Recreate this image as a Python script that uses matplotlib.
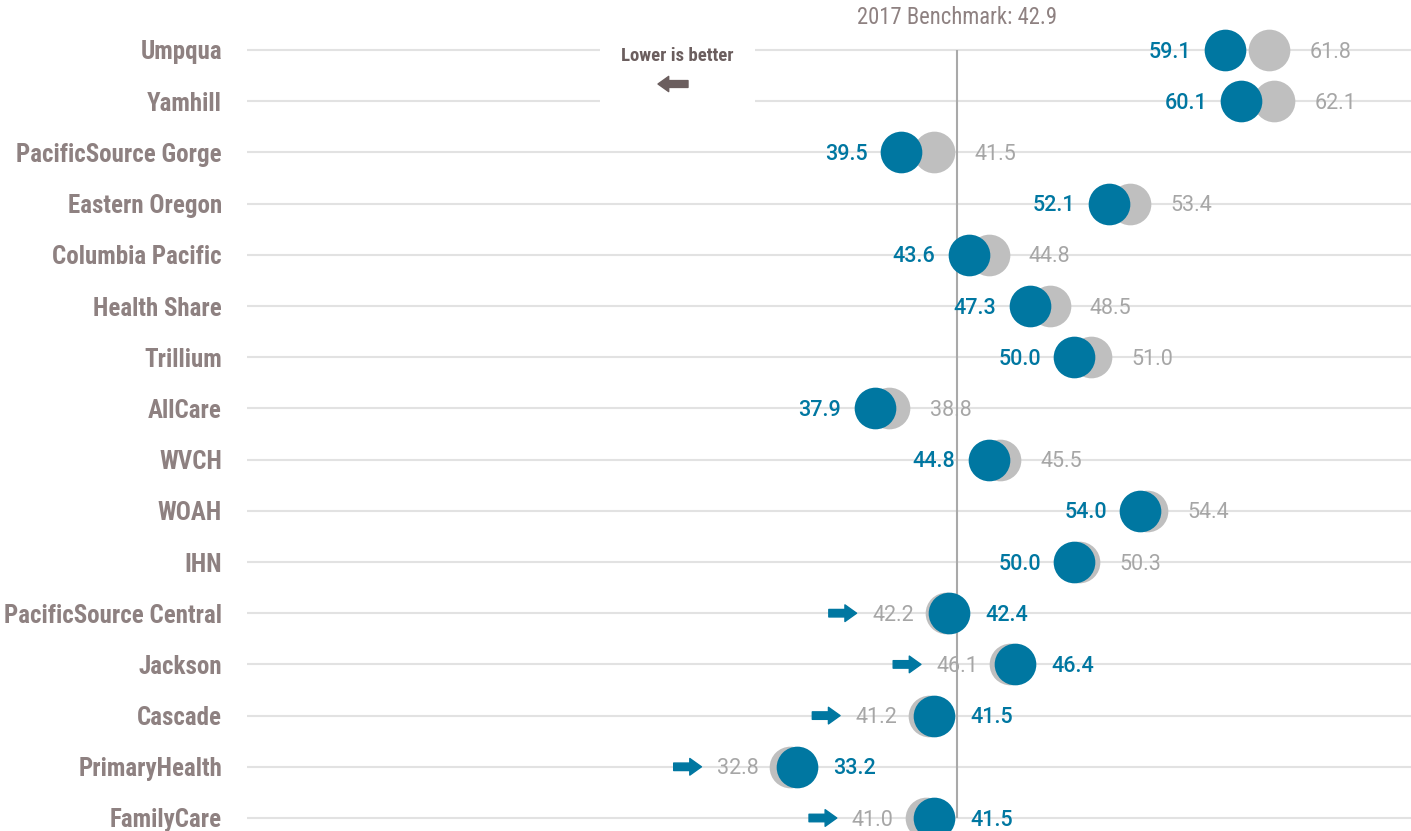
import matplotlib
matplotlib.use("Agg")
import matplotlib.pyplot as plt
from matplotlib import font_manager, transforms
from matplotlib.font_manager import FontProperties
from matplotlib.patches import Rectangle

regions = ["Umpqua", "Yamhill", "PacificSource Gorge", "Eastern Oregon", "Columbia Pacific",
           "Health Share", "Trillium", "AllCare", "WVCH", "WOAH", "IHN",
           "PacificSource Central", "Jackson", "Cascade", "PrimaryHealth", "FamilyCare"]
prev_vals = [61.8, 62.1, 41.5, 53.4, 44.8, 48.5, 51.0, 38.8, 45.5, 54.4, 50.3, 42.2, 46.1, 41.2, 32.8, 41.0]
curr_vals = [59.1, 60.1, 39.5, 52.1, 43.6, 47.3, 50.0, 37.9, 44.8, 54.0, 50.0, 42.4, 46.4, 41.5, 33.2, 41.5]
benchmark = 42.9
benchmark_label = "2017 Benchmark: 42.9"
note_label = "Lower is better"


def ff(family, weight, stretch='normal'):
    try:
        return font_manager.findfont(FontProperties(family=family, weight=weight, stretch=stretch),
                                     fallback_to_default=False)
    except Exception:
        return None


def mk(fname, size, fallback_weight='normal'):
    if fname:
        p = FontProperties(fname=fname)
    else:
        p = FontProperties(family='DejaVu Sans', weight=fallback_weight)
        size *= 0.8
    p.set_size(size)
    return p


cond_med = ff('Roboto Condensed', 'semibold', 'condensed') or ff('Roboto Condensed', 'bold', 'condensed')
cond_bold = ff('Roboto Condensed', 'bold', 'condensed')
cond_reg = ff('Roboto Condensed', 'normal', 'condensed')
rob_reg = ff('Roboto', 'normal') or cond_reg
rob_med = ff('Roboto', 'medium') or cond_bold

BLUE = "#0077A1"
GREY_DOT = "#BFBFBF"
GREY_TXT = "#A6A6A6"
LABEL_TXT = "#8E8181"
NOTE_TXT = "#6B5E5E"
GRID = "#E2E2E2"

W, H = 1411, 831
fig = plt.figure(figsize=(W / 100, H / 100), dpi=100)
ax = fig.add_axes([247 / W, 0, 1 - 247 / W, 1])
n = len(regions)
ys = list(range(n))
ax.set_ylim(n - 1 + 13 / 51.2, -50 / 51.2)
ax.set_xlim(-0.13, 70.4)
for s in ax.spines.values():
    s.set_visible(False)
ax.set_xticks([])
ax.set_yticks(ys)
ax.set_yticklabels(regions, color=LABEL_TXT)
for t in ax.get_yticklabels():
    t.set_fontproperties(mk(cond_med, 18, 'bold'))
ax.tick_params(axis='y', length=0, pad=18)

for y in ys:
    ax.axhline(y, color=GRID, lw=1.5, zorder=0)

ax.add_patch(Rectangle((600 / W, 1 - 112 / H), 155 / W, 75 / H, transform=fig.transFigure,
                       facecolor='white', edgecolor='none', zorder=1))

ax.vlines(benchmark, 0, n - 1, color="#A9A9A9", lw=1.5, zorder=1)

ax.scatter(prev_vals, ys, s=900, color=GREY_DOT, zorder=3, linewidths=0)
ax.scatter(curr_vals, ys, s=900, color=BLUE, zorder=4, linewidths=0)

VS = 15.5
fb = mk(rob_med, VS, 'bold')
fr = mk(rob_reg, VS)
for y, p, c in zip(ys, prev_vals, curr_vals):
    if c <= p:
        ax.annotate(f"{c:.1f}", (c, y), xytext=(-24, -1.5), textcoords='offset points',
                    ha='right', va='center', fontproperties=fb, color=BLUE, zorder=5)
        ax.annotate(f"{p:.1f}", (p, y), xytext=(29, -1.5), textcoords='offset points',
                    ha='left', va='center', fontproperties=fr, color=GREY_TXT, zorder=5)
    else:
        ax.annotate(f"{p:.1f}", (p, y), xytext=(-23, -1.5), textcoords='offset points',
                    ha='right', va='center', fontproperties=fr, color=GREY_TXT, zorder=2)
        ax.annotate(f"{c:.1f}", (c, y), xytext=(26, -1.5), textcoords='offset points',
                    ha='left', va='center', fontproperties=fb, color=BLUE, zorder=5)
        tip = transforms.offset_copy(ax.transData, fig=fig, x=-89, y=0, units='dots')
        ax.annotate('', xy=(p, y), xycoords=tip, xytext=(-20, 0), textcoords='offset points',
                    arrowprops=dict(arrowstyle='simple,head_length=0.7,head_width=1.0,tail_width=0.45',
                                    color=BLUE, mutation_scale=12, shrinkA=0, shrinkB=0))

fig.text(957 / W, 1 - 18 / H, benchmark_label, ha='center', va='center',
         fontproperties=mk(cond_reg, 16.3), color=LABEL_TXT)
fig.text(677 / W, 1 - 56 / H, note_label, ha='center', va='center',
         fontproperties=mk(cond_bold, 13.5, 'bold'), color=NOTE_TXT, zorder=6)
ax.annotate('', xy=(658, H - 84), xycoords='figure pixels', xytext=(688, H - 84),
            textcoords='figure pixels',
            arrowprops=dict(arrowstyle='simple,head_length=0.7,head_width=1.0,tail_width=0.45',
                            color=NOTE_TXT, mutation_scale=11, shrinkA=0, shrinkB=0), zorder=6)

fig.savefig("out.png", dpi=100)
